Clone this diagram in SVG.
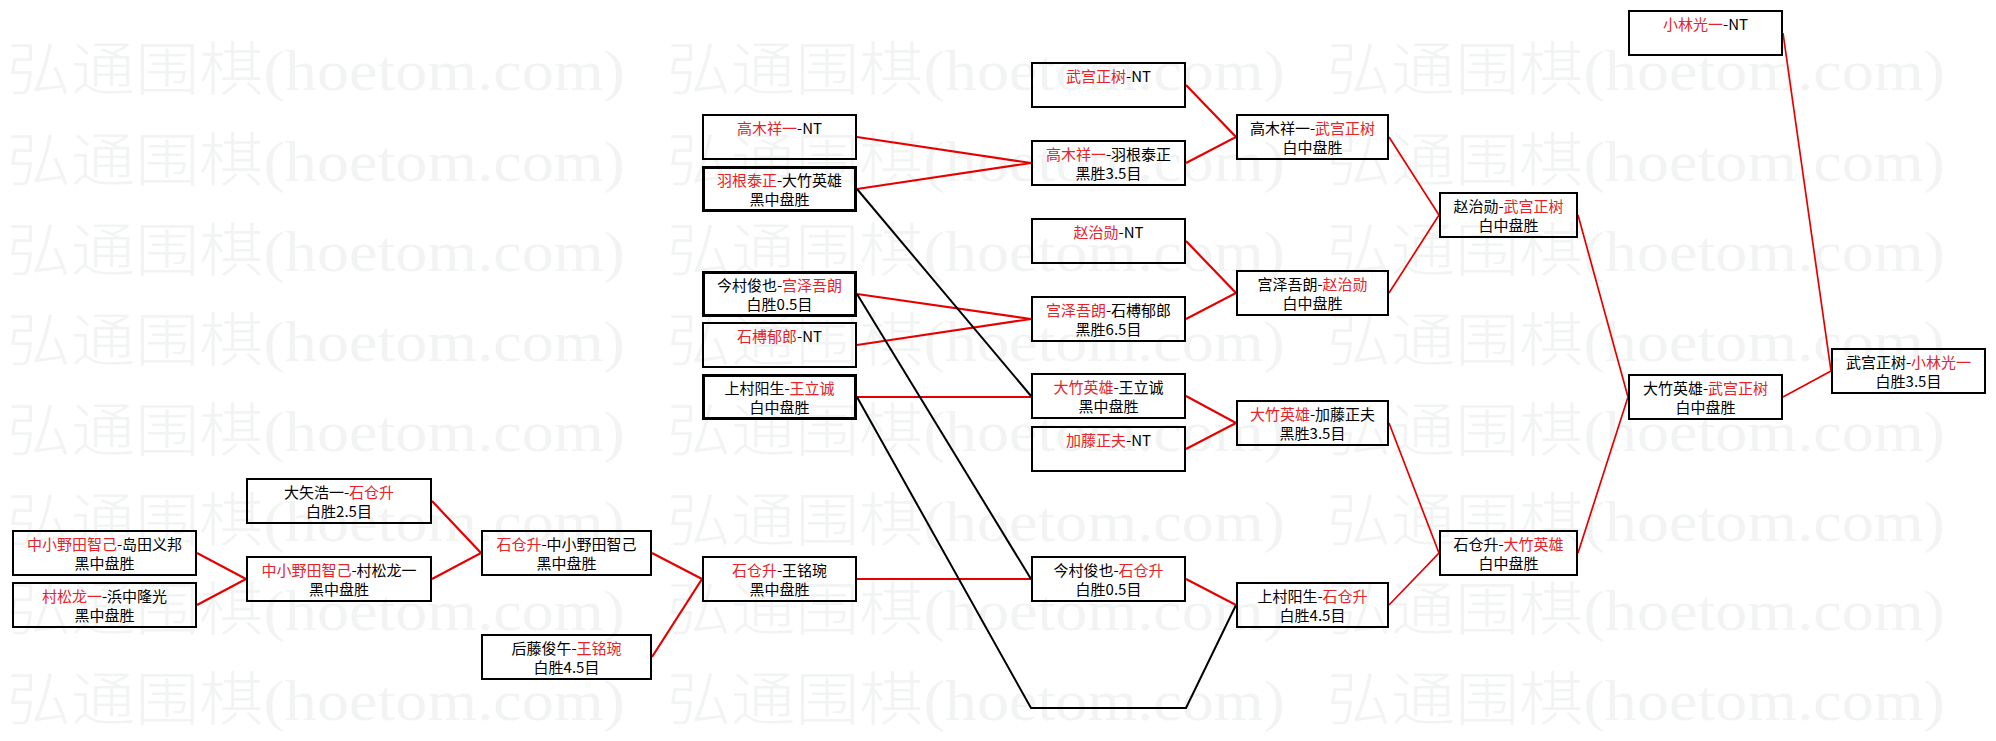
<svg xmlns="http://www.w3.org/2000/svg" width="1996" height="741" viewBox="0 0 1996 741">
<style>
.bg{fill:#fff}
.wm{font-size:58px;fill:#f2f4f4}
.wc{font-family:"Noto Sans CJK SC",sans-serif;font-weight:300}
.wl{font-family:"Liberation Serif",serif}
.box{fill:none;stroke:#000;stroke-width:2}
.thick{stroke-width:3}
.t{font-family:"Noto Sans CJK SC",sans-serif;font-size:15px;fill:#000;text-anchor:middle}
.r{fill:#e3242b}
.rl{fill:none;stroke:#e60000;stroke-width:2.2;stroke-linejoin:miter}
.rt{fill:none;stroke:#e60000;stroke-width:1.7}
.bl{fill:none;stroke:#000;stroke-width:2}
</style>
<rect class="bg" x="0" y="0" width="1996" height="741"/>
<g id="watermark">
<text class="wm" x="7" y="90" textLength="618" lengthAdjust="spacingAndGlyphs"><tspan class="wc">弘通围棋</tspan><tspan class="wl">(hoetom.com)</tspan></text>
<text class="wm" x="667" y="90" textLength="618" lengthAdjust="spacingAndGlyphs"><tspan class="wc">弘通围棋</tspan><tspan class="wl">(hoetom.com)</tspan></text>
<text class="wm" x="1327" y="90" textLength="618" lengthAdjust="spacingAndGlyphs"><tspan class="wc">弘通围棋</tspan><tspan class="wl">(hoetom.com)</tspan></text>
<text class="wm" x="7" y="181" textLength="618" lengthAdjust="spacingAndGlyphs"><tspan class="wc">弘通围棋</tspan><tspan class="wl">(hoetom.com)</tspan></text>
<text class="wm" x="667" y="181" textLength="618" lengthAdjust="spacingAndGlyphs"><tspan class="wc">弘通围棋</tspan><tspan class="wl">(hoetom.com)</tspan></text>
<text class="wm" x="1327" y="181" textLength="618" lengthAdjust="spacingAndGlyphs"><tspan class="wc">弘通围棋</tspan><tspan class="wl">(hoetom.com)</tspan></text>
<text class="wm" x="7" y="271" textLength="618" lengthAdjust="spacingAndGlyphs"><tspan class="wc">弘通围棋</tspan><tspan class="wl">(hoetom.com)</tspan></text>
<text class="wm" x="667" y="271" textLength="618" lengthAdjust="spacingAndGlyphs"><tspan class="wc">弘通围棋</tspan><tspan class="wl">(hoetom.com)</tspan></text>
<text class="wm" x="1327" y="271" textLength="618" lengthAdjust="spacingAndGlyphs"><tspan class="wc">弘通围棋</tspan><tspan class="wl">(hoetom.com)</tspan></text>
<text class="wm" x="7" y="361" textLength="618" lengthAdjust="spacingAndGlyphs"><tspan class="wc">弘通围棋</tspan><tspan class="wl">(hoetom.com)</tspan></text>
<text class="wm" x="667" y="361" textLength="618" lengthAdjust="spacingAndGlyphs"><tspan class="wc">弘通围棋</tspan><tspan class="wl">(hoetom.com)</tspan></text>
<text class="wm" x="1327" y="361" textLength="618" lengthAdjust="spacingAndGlyphs"><tspan class="wc">弘通围棋</tspan><tspan class="wl">(hoetom.com)</tspan></text>
<text class="wm" x="7" y="451" textLength="618" lengthAdjust="spacingAndGlyphs"><tspan class="wc">弘通围棋</tspan><tspan class="wl">(hoetom.com)</tspan></text>
<text class="wm" x="667" y="451" textLength="618" lengthAdjust="spacingAndGlyphs"><tspan class="wc">弘通围棋</tspan><tspan class="wl">(hoetom.com)</tspan></text>
<text class="wm" x="1327" y="451" textLength="618" lengthAdjust="spacingAndGlyphs"><tspan class="wc">弘通围棋</tspan><tspan class="wl">(hoetom.com)</tspan></text>
<text class="wm" x="7" y="541" textLength="618" lengthAdjust="spacingAndGlyphs"><tspan class="wc">弘通围棋</tspan><tspan class="wl">(hoetom.com)</tspan></text>
<text class="wm" x="667" y="541" textLength="618" lengthAdjust="spacingAndGlyphs"><tspan class="wc">弘通围棋</tspan><tspan class="wl">(hoetom.com)</tspan></text>
<text class="wm" x="1327" y="541" textLength="618" lengthAdjust="spacingAndGlyphs"><tspan class="wc">弘通围棋</tspan><tspan class="wl">(hoetom.com)</tspan></text>
<text class="wm" x="7" y="630" textLength="618" lengthAdjust="spacingAndGlyphs"><tspan class="wc">弘通围棋</tspan><tspan class="wl">(hoetom.com)</tspan></text>
<text class="wm" x="667" y="630" textLength="618" lengthAdjust="spacingAndGlyphs"><tspan class="wc">弘通围棋</tspan><tspan class="wl">(hoetom.com)</tspan></text>
<text class="wm" x="1327" y="630" textLength="618" lengthAdjust="spacingAndGlyphs"><tspan class="wc">弘通围棋</tspan><tspan class="wl">(hoetom.com)</tspan></text>
<text class="wm" x="7" y="720" textLength="618" lengthAdjust="spacingAndGlyphs"><tspan class="wc">弘通围棋</tspan><tspan class="wl">(hoetom.com)</tspan></text>
<text class="wm" x="667" y="720" textLength="618" lengthAdjust="spacingAndGlyphs"><tspan class="wc">弘通围棋</tspan><tspan class="wl">(hoetom.com)</tspan></text>
<text class="wm" x="1327" y="720" textLength="618" lengthAdjust="spacingAndGlyphs"><tspan class="wc">弘通围棋</tspan><tspan class="wl">(hoetom.com)</tspan></text>
</g>
<g id="connectors">
<polyline class="rl" points="197,553 246,579 197,605"/>
<polyline class="rl" points="432,501 481,553 432,579"/>
<polyline class="rl" points="652,553 702,579 652,657"/>
<polyline class="rl" points="857,137 1031,163 857,189"/>
<polyline class="rl" points="857,294 1031,319 857,345"/>
<line class="rl" x1="857" y1="397" x2="1031" y2="397"/>
<line class="rl" x1="857" y1="579" x2="1031" y2="579"/>
<line class="bl" x1="857" y1="189" x2="1031" y2="396"/>
<line class="bl" x1="857" y1="294" x2="1031" y2="579"/>
<polyline class="bl" points="857,397 1031,708 1186,708 1236,605"/>
<polyline class="rl" points="1186,85 1236,137 1186,163"/>
<polyline class="rl" points="1186,241 1236,293 1186,319"/>
<polyline class="rl" points="1186,396 1236,423 1186,449"/>
<line class="rl" x1="1186" y1="579" x2="1236" y2="605"/>
<polyline class="rt" points="1389,137 1439,215 1389,293"/>
<polyline class="rt" points="1389,423 1439,553 1389,605"/>
<polyline class="rt" points="1578,215 1628,397 1578,553"/>
<polyline class="rt" points="1783,33 1831,371 1783,397"/>
</g>
<g id="A1"><rect class="box" x="13" y="531" width="183" height="44"/><text class="t" x="104.5" y="550"><tspan class="r">中小野田智己</tspan>-岛田义邦</text><text class="t" x="104.5" y="569">黑中盘胜</text></g>
<g id="A2"><rect class="box" x="13" y="583" width="183" height="44"/><text class="t" x="104.5" y="602"><tspan class="r">村松龙一</tspan>-浜中隆光</text><text class="t" x="104.5" y="621">黑中盘胜</text></g>
<g id="B1"><rect class="box" x="247" y="479" width="184" height="44"/><text class="t" x="339" y="498">大矢浩一-<tspan class="r">石仓升</tspan></text><text class="t" x="339" y="517">白胜2.5目</text></g>
<g id="B2"><rect class="box" x="247" y="557" width="184" height="44"/><text class="t" x="339" y="576"><tspan class="r">中小野田智己</tspan>-村松龙一</text><text class="t" x="339" y="595">黑中盘胜</text></g>
<g id="C1"><rect class="box" x="482" y="531" width="169" height="44"/><text class="t" x="566.5" y="550"><tspan class="r">石仓升</tspan>-中小野田智己</text><text class="t" x="566.5" y="569">黑中盘胜</text></g>
<g id="C2"><rect class="box" x="482" y="635" width="169" height="44"/><text class="t" x="566.5" y="654">后藤俊午-<tspan class="r">王铭琬</tspan></text><text class="t" x="566.5" y="673">白胜4.5目</text></g>
<g id="D1"><rect class="box" x="703" y="115" width="153" height="44"/><text class="t" x="779.5" y="134"><tspan class="r">高木祥一</tspan>-NT</text></g>
<g id="D2"><rect class="box thick" x="703.5" y="167.5" width="152" height="43"/><text class="t" x="779.5" y="186"><tspan class="r">羽根泰正</tspan>-大竹英雄</text><text class="t" x="779.5" y="205">黑中盘胜</text></g>
<g id="D3"><rect class="box thick" x="703.5" y="272.5" width="152" height="43"/><text class="t" x="779.5" y="291">今村俊也-<tspan class="r">宫泽吾朗</tspan></text><text class="t" x="779.5" y="310">白胜0.5目</text></g>
<g id="D4"><rect class="box" x="703" y="323" width="153" height="44"/><text class="t" x="779.5" y="342"><tspan class="r">石榑郁郎</tspan>-NT</text></g>
<g id="D5"><rect class="box thick" x="703.5" y="375.5" width="152" height="43"/><text class="t" x="779.5" y="394">上村阳生-<tspan class="r">王立诚</tspan></text><text class="t" x="779.5" y="413">白中盘胜</text></g>
<g id="D6"><rect class="box" x="703" y="557" width="153" height="44"/><text class="t" x="779.5" y="576"><tspan class="r">石仓升</tspan>-王铭琬</text><text class="t" x="779.5" y="595">黑中盘胜</text></g>
<g id="E1"><rect class="box" x="1032" y="63" width="153" height="44"/><text class="t" x="1108.5" y="82"><tspan class="r">武宫正树</tspan>-NT</text></g>
<g id="E2"><rect class="box" x="1032" y="141" width="153" height="44"/><text class="t" x="1108.5" y="160"><tspan class="r">高木祥一</tspan>-羽根泰正</text><text class="t" x="1108.5" y="179">黑胜3.5目</text></g>
<g id="E3"><rect class="box" x="1032" y="219" width="153" height="44"/><text class="t" x="1108.5" y="238"><tspan class="r">赵治勋</tspan>-NT</text></g>
<g id="E4"><rect class="box" x="1032" y="297" width="153" height="44"/><text class="t" x="1108.5" y="316"><tspan class="r">宫泽吾朗</tspan>-石榑郁郎</text><text class="t" x="1108.5" y="335">黑胜6.5目</text></g>
<g id="E5"><rect class="box" x="1032" y="374" width="153" height="44"/><text class="t" x="1108.5" y="393"><tspan class="r">大竹英雄</tspan>-王立诚</text><text class="t" x="1108.5" y="412">黑中盘胜</text></g>
<g id="E6"><rect class="box" x="1032" y="427" width="153" height="44"/><text class="t" x="1108.5" y="446"><tspan class="r">加藤正夫</tspan>-NT</text></g>
<g id="E7"><rect class="box" x="1032" y="557" width="153" height="44"/><text class="t" x="1108.5" y="576">今村俊也-<tspan class="r">石仓升</tspan></text><text class="t" x="1108.5" y="595">白胜0.5目</text></g>
<g id="F1"><rect class="box" x="1237" y="115" width="151" height="44"/><text class="t" x="1312.5" y="134">高木祥一-<tspan class="r">武宫正树</tspan></text><text class="t" x="1312.5" y="153">白中盘胜</text></g>
<g id="F2"><rect class="box" x="1237" y="271" width="151" height="44"/><text class="t" x="1312.5" y="290">宫泽吾朗-<tspan class="r">赵治勋</tspan></text><text class="t" x="1312.5" y="309">白中盘胜</text></g>
<g id="F3"><rect class="box" x="1237" y="401" width="151" height="44"/><text class="t" x="1312.5" y="420"><tspan class="r">大竹英雄</tspan>-加藤正夫</text><text class="t" x="1312.5" y="439">黑胜3.5目</text></g>
<g id="F4"><rect class="box" x="1237" y="583" width="151" height="44"/><text class="t" x="1312.5" y="602">上村阳生-<tspan class="r">石仓升</tspan></text><text class="t" x="1312.5" y="621">白胜4.5目</text></g>
<g id="G1"><rect class="box" x="1440" y="193" width="137" height="44"/><text class="t" x="1508.5" y="212">赵治勋-<tspan class="r">武宫正树</tspan></text><text class="t" x="1508.5" y="231">白中盘胜</text></g>
<g id="G2"><rect class="box" x="1440" y="531" width="137" height="44"/><text class="t" x="1508.5" y="550">石仓升-<tspan class="r">大竹英雄</tspan></text><text class="t" x="1508.5" y="569">白中盘胜</text></g>
<g id="H1"><rect class="box" x="1629" y="11" width="153" height="44"/><text class="t" x="1705.5" y="30"><tspan class="r">小林光一</tspan>-NT</text></g>
<g id="H2"><rect class="box" x="1629" y="375" width="153" height="44"/><text class="t" x="1705.5" y="394">大竹英雄-<tspan class="r">武宫正树</tspan></text><text class="t" x="1705.5" y="413">白中盘胜</text></g>
<g id="I1"><rect class="box" x="1832" y="349" width="153" height="44"/><text class="t" x="1908.5" y="368">武宫正树-<tspan class="r">小林光一</tspan></text><text class="t" x="1908.5" y="387">白胜3.5目</text></g>
</svg>
